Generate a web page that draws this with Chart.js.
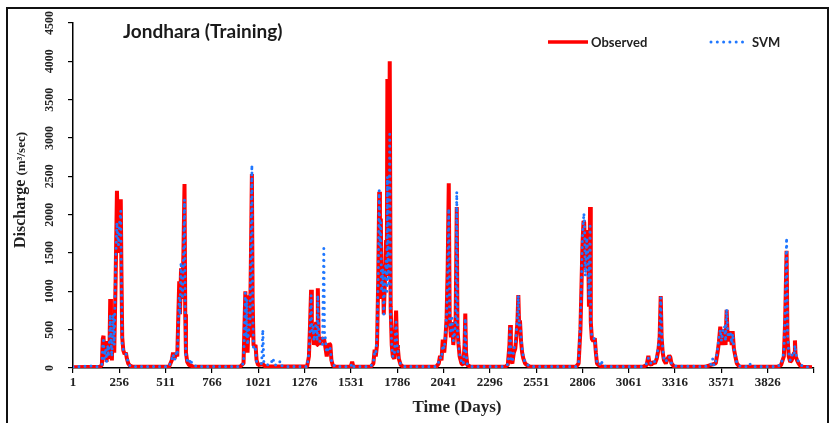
<!DOCTYPE html>
<html>
<head>
<meta charset="utf-8">
<style>
  html, body { margin: 0; padding: 0; background: #fff; }
  #wrap { position: relative; width: 832px; height: 423px; overflow: hidden; }
  #frame { position: absolute; left: 6px; top: 7px; width: 823px; height: 440px; border: 2px solid #111; box-sizing: border-box; pointer-events: none; }
  canvas { position: absolute; left: 0; top: 0; }
</style>
</head>
<body>
<div id="wrap">
  <canvas id="flowChart" width="832" height="423"></canvas>
  <div id="frame"></div>
</div>
<script src="https://cdn.jsdelivr.net/npm/chart.js"></script>
<script>
// Jondhara (Training) - observed vs SVM discharge
const xTickValues = [1, 256, 511, 766, 1021, 1276, 1531, 1786, 2041, 2296, 2551, 2806, 3061, 3316, 3571, 3826, 4081];
const xTickLabels = ['1', '256', '511', '766', '1021', '1276', '1531', '1786', '2041', '2296', '2551', '2806', '3061', '3316', '3571', '3826', ''];
const yTickValues = [0, 500, 1000, 1500, 2000, 2500, 3000, 3500, 4000, 4500];

const obsDays = [
  1, 150, 160, 165, 169, 173, 180, 186, 192, 196, 202, 206, 210, 215, 222, 228, 236, 243, 248, 252, 258, 264, 268, 272, 278, 285, 292, 298, 305, 315, 330,
  530, 545, 552, 560, 568, 575, 580, 586, 590, 596, 603, 609, 615, 619, 623, 630, 640, 660,
  920, 940, 950, 954, 958, 962, 968, 975, 981, 986, 990, 995, 1000, 1006, 1012, 1020, 1046, 1060,
  1290, 1300, 1306, 1312, 1316, 1322, 1328, 1334, 1340, 1345, 1349, 1354, 1360, 1368, 1375, 1382, 1390, 1398, 1405, 1412, 1418, 1424, 1432, 1450,
  1530, 1538, 1545,
  1640, 1655, 1662, 1668, 1675, 1682, 1687, 1691, 1696, 1700, 1707, 1712, 1718, 1725, 1729, 1732, 1736, 1740, 1745, 1750, 1756, 1762, 1770, 1780, 1785, 1790, 1795, 1805, 1820,
  2000, 2015, 2022, 2030, 2037, 2045, 2052, 2058, 2064, 2070, 2075, 2082, 2088, 2095, 2102, 2108, 2114, 2118, 2124, 2130, 2140, 2150, 2157, 2161, 2165, 2172, 2190,
  2380, 2395, 2404, 2408, 2412, 2420, 2428, 2436, 2442, 2448, 2453, 2458, 2462, 2468, 2474, 2480, 2490, 2505, 2520,
  2770, 2785, 2795, 2800, 2806, 2812, 2816, 2822, 2830, 2838, 2842, 2848, 2852, 2858, 2866, 2874, 2880, 2886, 2900, 2920,
  3140, 3160, 3169, 3175, 3185, 3195, 3205, 3215, 3225, 3231, 3237, 3242, 3248, 3255, 3265, 3275, 3284, 3290, 3296, 3310,
  3480, 3540, 3550, 3558, 3565, 3572, 3580, 3588, 3594, 3600, 3606, 3612, 3620, 3628, 3633, 3640, 3648, 3656, 3670,
  3880, 3900, 3915, 3922, 3930, 3935, 3942, 3950, 3958, 3965, 3972, 3976, 3980, 3988, 3996, 4005, 4020, 4070
];
const obsValues = [
  10, 15, 40, 380, 420, 150, 300, 80, 350, 120, 250, 900, 300, 100, 650, 200, 1200, 2310, 1800, 1500, 2000, 2200, 1200, 400, 230, 180, 200, 120, 60, 30, 15,
  15, 100, 200, 120, 200, 150, 600, 1130, 700, 1300, 900, 1500, 2400, 700, 200, 80, 40, 20,
  15, 60, 1000, 300, 950, 200, 600, 400, 1500, 2530, 900, 300, 280, 300, 100, 40, 50, 20,
  20, 150, 550, 1020, 400, 550, 300, 500, 600, 300, 1040, 400, 300, 400, 350, 400, 280, 150, 250, 320, 300, 100, 30, 15,
  15, 80, 15,
  15, 60, 240, 150, 300, 1200, 2300, 1500, 1950, 900, 1350, 700, 1100, 1670, 1300, 3770, 1500, 1200, 4000, 800, 300, 150, 120, 750, 300, 250, 120, 40, 15,
  15, 60, 160, 100, 370, 200, 400, 650, 1300, 2410, 650, 400, 600, 300, 500, 650, 2100, 500, 300, 150, 60, 40, 300, 710, 200, 40, 15,
  15, 40, 300, 560, 100, 60, 200, 250, 400, 600, 950, 500, 620, 350, 200, 130, 60, 30, 15,
  15, 60, 500, 1000, 1600, 1920, 1900, 1300, 1800, 1500, 800, 2100, 600, 380, 350, 390, 200, 60, 30, 15,
  15, 40, 160, 60, 40, 80, 60, 120, 250, 400, 940, 400, 200, 100, 60, 120, 160, 140, 60, 20,
  15, 60, 200, 350, 540, 300, 450, 500, 300, 760, 400, 350, 480, 300, 480, 250, 150, 60, 20,
  15, 40, 150, 600, 1530, 400, 150, 80, 100, 150, 200, 360, 150, 100, 60, 30, 15, 10
];

const svmDays = [
  1, 100, 130, 150, 160, 165, 169, 173, 180, 186, 192, 196, 202, 206, 210, 215, 222, 228, 236, 243, 248, 252, 258, 264, 268, 272, 278, 285, 292, 298, 305, 315, 330,
  530, 545, 552, 560, 568, 575, 580, 586, 590, 596, 603, 609, 615, 619, 623, 630, 640, 648, 655, 670, 690,
  920, 940, 950, 954, 958, 962, 968, 975, 981, 986, 990, 995, 1000, 1006, 1012, 1020, 1040, 1046, 1052, 1070, 1090, 1102, 1110, 1130, 1142, 1150, 1170,
  1290, 1300, 1306, 1312, 1316, 1322, 1328, 1334, 1340, 1345, 1349, 1354, 1360, 1368, 1375, 1382, 1386, 1390, 1398, 1405, 1412, 1418, 1424, 1432, 1450,
  1530, 1538, 1545,
  1640, 1655, 1662, 1668, 1675, 1682, 1687, 1691, 1696, 1700, 1707, 1712, 1718, 1725, 1729, 1732, 1736, 1740, 1745, 1750, 1756, 1762, 1770, 1780, 1785, 1790, 1795, 1805, 1820,
  2000, 2015, 2022, 2030, 2037, 2045, 2052, 2058, 2064, 2070, 2075, 2082, 2088, 2095, 2102, 2108, 2114, 2118, 2124, 2130, 2140, 2150, 2157, 2161, 2165, 2172, 2190,
  2380, 2395, 2404, 2408, 2412, 2420, 2428, 2436, 2442, 2448, 2453, 2458, 2462, 2468, 2474, 2480, 2490, 2505, 2520,
  2770, 2785, 2795, 2800, 2806, 2814, 2818, 2822, 2830, 2838, 2842, 2848, 2852, 2858, 2866, 2874, 2880, 2886, 2900, 2910, 2918, 2940,
  3140, 3160, 3169, 3175, 3185, 3195, 3205, 3215, 3225, 3231, 3237, 3242, 3248, 3255, 3265, 3275, 3284, 3290, 3296, 3310,
  3480, 3510, 3523, 3530, 3540, 3550, 3558, 3565, 3572, 3580, 3588, 3594, 3600, 3606, 3612, 3620, 3628, 3633, 3640, 3648, 3656, 3670, 3710, 3725, 3740,
  3880, 3900, 3915, 3922, 3930, 3935, 3942, 3950, 3958, 3965, 3972, 3976, 3980, 3988, 3996, 4005, 4020, 4070
];
const svmValues = [
  15, 25, 20, 20, 50, 300, 360, 120, 250, 80, 300, 150, 350, 700, 350, 150, 700, 300, 1400, 1900, 1700, 1600, 1900, 2050, 1000, 300, 240, 200, 190, 150, 60, 30, 20,
  20, 120, 180, 100, 190, 160, 500, 950, 700, 1380, 900, 1400, 2200, 600, 150, 100, 60, 120, 60, 30, 20,
  20, 60, 980, 400, 900, 300, 500, 500, 1700, 2650, 800, 250, 270, 250, 80, 60, 60, 500, 60, 40, 50, 130, 40, 40, 90, 30, 20,
  20, 200, 500, 950, 450, 550, 350, 550, 550, 350, 950, 450, 350, 300, 300, 1560, 400, 400, 200, 250, 280, 250, 100, 40, 20,
  20, 60, 20,
  20, 80, 200, 180, 400, 1300, 2320, 1600, 1900, 1000, 1300, 700, 1200, 1400, 1000, 2500, 1400, 1100, 3050, 700, 300, 150, 150, 600, 300, 220, 120, 50, 20,
  20, 80, 140, 120, 300, 250, 450, 680, 1200, 2080, 600, 450, 650, 350, 450, 600, 2300, 450, 300, 180, 80, 50, 250, 650, 200, 50, 20,
  20, 50, 280, 550, 120, 80, 250, 300, 450, 650, 950, 550, 600, 400, 250, 150, 70, 40, 20,
  20, 80, 600, 1100, 1700, 2020, 1800, 1200, 1700, 1400, 900, 1850, 550, 400, 380, 390, 220, 70, 40, 100, 30, 20,
  20, 60, 130, 80, 60, 100, 80, 150, 300, 450, 920, 450, 250, 120, 80, 140, 150, 120, 60, 25,
  20, 30, 120, 30, 80, 250, 400, 500, 350, 500, 550, 350, 770, 450, 400, 480, 320, 450, 250, 150, 70, 25, 20, 60, 20,
  20, 50, 200, 700, 1700, 450, 200, 100, 150, 200, 180, 300, 200, 120, 80, 50, 20, 15
];

const toPoints = (xs, ys) => xs.map((x, i) => ({ x: x, y: ys[i] }));

const serif = '"Liberation Serif", "Times New Roman", serif';
const sans = 'Lato, "Open Sans", sans-serif';

// Rotated y labels, axis titles, title and legend
const decorPlugin = {
  id: 'decor',
  afterDraw(chart) {
    const ctx = chart.ctx;
    const yScale = chart.scales.y;
    ctx.save();
    ctx.fillStyle = '#222';

    // y tick labels (rotated)
    ctx.font = 'bold 12px ' + serif;
    ctx.textAlign = 'center';
    ctx.textBaseline = 'middle';
    yTickValues.forEach(v => {
      const y = yScale.getPixelForValue(v);
      ctx.save();
      ctx.translate(50, y);
      ctx.rotate(-Math.PI / 2);
      ctx.fillText(String(v), 0, 0);
      ctx.restore();
    });

    // y axis title
    ctx.save();
    ctx.translate(21, 190);
    ctx.rotate(-Math.PI / 2);
    ctx.textBaseline = 'middle';
    ctx.font = 'bold 16px ' + serif;
    const part1 = 'Discharge ';
    const w1 = ctx.measureText(part1).width;
    ctx.font = 'bold 13px ' + serif;
    const part2 = '(m\u00b3/sec)';
    const w2 = ctx.measureText(part2).width;
    const x0 = -(w1 + w2) / 2;
    ctx.textAlign = 'left';
    ctx.font = 'bold 16px ' + serif;
    ctx.fillText(part1, x0, 0);
    ctx.font = 'bold 13px ' + serif;
    ctx.fillText(part2, x0 + w1, 1);
    ctx.restore();

    // x axis title
    ctx.font = 'bold 17px ' + serif;
    ctx.textAlign = 'center';
    ctx.textBaseline = 'middle';
    ctx.fillText('Time (Days)', 457, 408);

    // chart title
    ctx.fillStyle = '#1a1a1a';
    ctx.font = 'bold 19px ' + sans;
    ctx.textAlign = 'left';
    ctx.fillText('Jondhara (Training)', 123, 32);

    // legend
    ctx.strokeStyle = '#ff0000';
    ctx.lineWidth = 3.5;
    ctx.lineCap = 'butt';
    ctx.beginPath();
    ctx.moveTo(548, 42);
    ctx.lineTo(588, 42);
    ctx.stroke();
    ctx.fillStyle = '#222';
    ctx.font = 'bold 13px ' + sans;
    ctx.fillText('Observed', 591, 43);

    ctx.fillStyle = '#1f77ff';
    for (let x = 711; x <= 748; x += 6.3) {
      ctx.beginPath();
      ctx.arc(x, 42, 1.5, 0, Math.PI * 2);
      ctx.fill();
    }
    ctx.fillStyle = '#222';
    ctx.fillText('SVM', 752, 43);
    ctx.restore();
  }
};

const ctx = document.getElementById('flowChart').getContext('2d');
new Chart(ctx, {
  type: 'line',
  data: {
    datasets: [
      {
        label: 'Observed',
        data: toPoints(obsDays, obsValues),
        borderColor: '#ff0000',
        borderWidth: 4,
        borderJoinStyle: 'bevel',
        pointRadius: 0,
        tension: 0,
        fill: false,
        order: 2
      },
      {
        label: 'SVM',
        data: toPoints(svmDays, svmValues),
        borderColor: '#1f77ff',
        borderWidth: 3,
        borderDash: [0, 6],
        borderCapStyle: 'round',
        pointRadius: 0,
        tension: 0,
        fill: false,
        order: 1
      }
    ]
  },
  options: {
    responsive: false,
    animation: false,
    devicePixelRatio: 1,
    layout: { padding: { top: 23, right: 18, left: 0, bottom: 0 } },
    plugins: {
      legend: { display: false },
      tooltip: { enabled: false }
    },
    scales: {
      x: {
        type: 'linear',
        min: 1,
        max: 4081,
        afterBuildTicks: s => { s.ticks = xTickValues.map(v => ({ value: v })); },
        afterFit: s => { s.height = 55; },
        ticks: {
          autoSkip: false,
          maxRotation: 0,
          color: '#222',
          padding: 2,
          font: { family: serif, weight: 'bold', size: 13 },
          callback: (v, i) => xTickLabels[i]
        },
        grid: { display: true, drawOnChartArea: false, drawTicks: true, tickLength: 5, color: '#000', lineWidth: 1.2 },
        border: { display: true, color: '#000', width: 1.5 }
      },
      y: {
        min: 0,
        max: 4500,
        afterBuildTicks: s => { s.ticks = yTickValues.map(v => ({ value: v })); },
        afterFit: s => { s.width = 73; },
        ticks: { color: 'rgba(0,0,0,0)', font: { size: 12 } },
        grid: { display: true, drawOnChartArea: false, drawTicks: true, tickLength: 5, color: '#000', lineWidth: 1.2 },
        border: { display: true, color: '#000', width: 1.5 }
      }
    }
  },
  plugins: [decorPlugin]
});
</script>
</body>
</html>
